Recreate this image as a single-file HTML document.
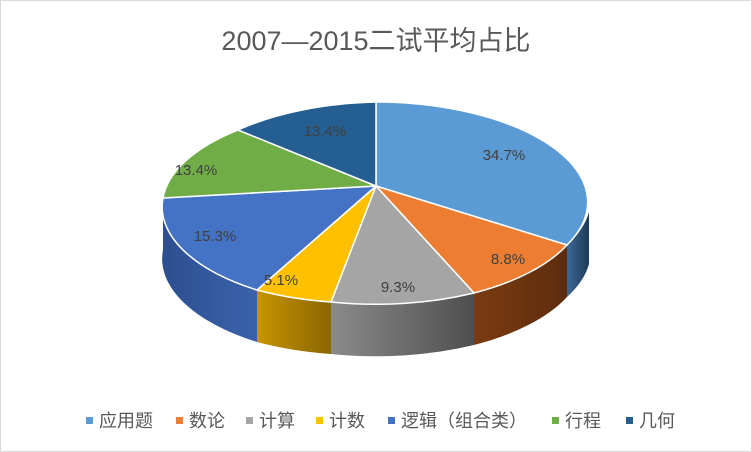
<!DOCTYPE html>
<html><head><meta charset="utf-8"><style>
body{margin:0;background:#fff;}
svg{display:block;font-family:"Liberation Sans","Noto Sans CJK SC",sans-serif;}
</style></head><body>
<svg width="752" height="452" viewBox="0 0 752 452">
<defs>
<linearGradient id="gb" x1="0" x2="1"><stop offset="0" stop-color="#3b6894"/><stop offset="1" stop-color="#1f3a57"/></linearGradient>
<linearGradient id="go" x1="0" x2="1"><stop offset="0" stop-color="#7a3b12"/><stop offset="1" stop-color="#5e2c0c"/></linearGradient>
<linearGradient id="gg" x1="0" x2="1"><stop offset="0" stop-color="#8a8a8a"/><stop offset="1" stop-color="#4f4f4f"/></linearGradient>
<linearGradient id="gy" x1="0" x2="1"><stop offset="0" stop-color="#c79400"/><stop offset="1" stop-color="#8a6600"/></linearGradient>
<linearGradient id="gd" x1="0" x2="1"><stop offset="0" stop-color="#2d4f8f"/><stop offset="1" stop-color="#3a62ac"/></linearGradient>
</defs>
<rect x="0.5" y="0.5" width="751" height="451" fill="#fff" stroke="#d9d9d9"/>
<text x="376" y="50" font-size="27" fill="#595959" text-anchor="middle">2007—2015二试平均占比</text>
<!-- sides -->
<path d="M589,212 A213,100 0 0 1 567,245 L567,297 A213,100 0 0 0 589,264 Z" fill="url(#gb)"/>
<path d="M567,245 A213,100 0 0 1 474,293 L474,345 A213,100 0 0 0 567,297 Z" fill="url(#go)"/>
<path d="M474,293 A213,100 0 0 1 331,302 L331,354 A213,100 0 0 0 474,345 Z" fill="url(#gg)"/>
<path d="M331,302 A213,100 0 0 1 257,290 L257,342 A213,100 0 0 0 331,354 Z" fill="url(#gy)"/>
<path d="M257,290 A213,100 0 0 1 163,198 L163,250 A213,100 0 0 0 257,342 Z" fill="url(#gd)"/>
<!-- top -->
<g stroke="#fff" stroke-width="1.5">
<path d="M376,186 L376,102 A213,100 0 0 1 567,245 Z" fill="#5b9bd5"/>
<path d="M376,186 L567,245 A213,100 0 0 1 474,293 Z" fill="#ed7d31"/>
<path d="M376,186 L474,293 A213,100 0 0 1 331,302 Z" fill="#a5a5a5"/>
<path d="M376,186 L331,302 A213,100 0 0 1 257,290 Z" fill="#ffc000"/>
<path d="M376,186 L257,290 A213,100 0 0 1 163,198 Z" fill="#4472c4"/>
<path d="M376,186 L163,198 A213,100 0 0 1 238,130 Z" fill="#70ad47"/>
<path d="M376,186 L238,130 A213,100 0 0 1 376,102 Z" fill="#255e91"/>
</g>
<g font-size="15" fill="#404040" text-anchor="middle">
<text x="504" y="160">34.7%</text>
<text x="508" y="264">8.8%</text>
<text x="398" y="292">9.3%</text>
<text x="281" y="285">5.1%</text>
<text x="215" y="241">15.3%</text>
<text x="196" y="175">13.4%</text>
<text x="325" y="136">13.4%</text>
</g>
<g font-size="18" fill="#595959">
<rect x="86" y="417" width="7" height="7" fill="#5b9bd5"/><text x="99" y="427">应用题</text>
<rect x="176" y="417" width="7" height="7" fill="#ed7d31"/><text x="189" y="427">数论</text>
<rect x="246" y="417" width="7" height="7" fill="#a5a5a5"/><text x="259" y="427">计算</text>
<rect x="316" y="417" width="7" height="7" fill="#ffc000"/><text x="329" y="427">计数</text>
<rect x="388" y="417" width="7" height="7" fill="#4472c4"/><text x="401" y="427">逻辑（组合类）</text>
<rect x="552" y="417" width="7" height="7" fill="#70ad47"/><text x="565" y="427">行程</text>
<rect x="626" y="417" width="7" height="7" fill="#255e91"/><text x="639" y="427">几何</text>
</g>
</svg>
</body></html>
